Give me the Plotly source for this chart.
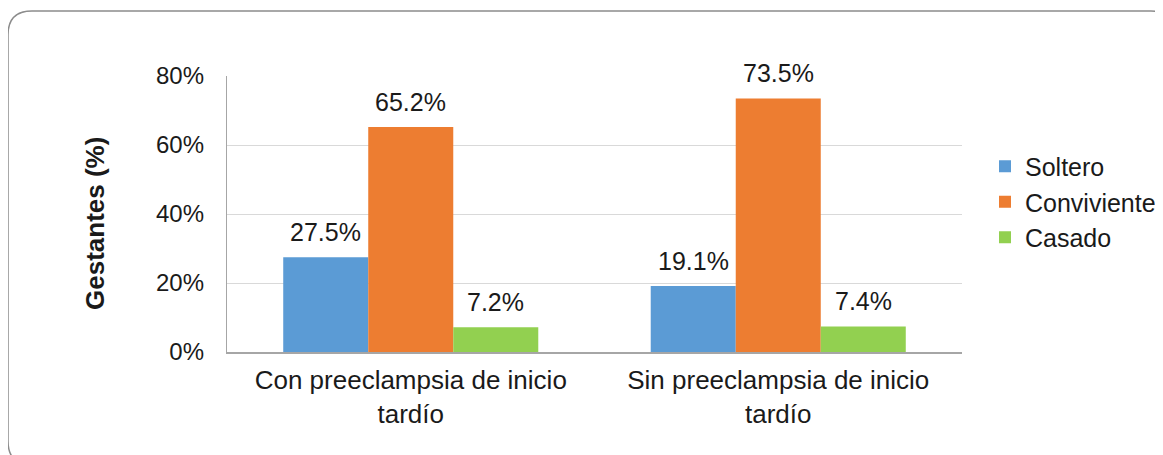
import plotly.graph_objects as go

categories = ["Con preeclampsia de inicio<br>tardío", "Sin preeclampsia de inicio<br>tardío"]
series_names = ["Soltero", "Conviviente", "Casado"]
soltero = [27.5, 19.1]
conviviente = [65.2, 73.5]
casado = [7.2, 7.4]
colors = ["#5b9bd5", "#ed7d31", "#92d050"]
y_ticks = [0, 20, 40, 60, 80]
y_tick_labels = ["0%", "20%", "40%", "60%", "80%"]

# page is rendered with an 8px body margin; work in page coordinates
OFF = 8
W, H = 1163 - OFF, 455 - OFF
PL, PR, PT, PB = 227, 962, 76, 352   # plot area in page pixels
pw, ph = PR - PL, PB - PT
L, T = PL - OFF, PT - OFF
R, B = W - (PR - OFF), H - (PB - OFF)
BARGAP = 0.306

def px(x):
    return (x - PL) / pw

def py(y):
    return (PB - y) / ph

FONT = "Arial, Liberation Sans, sans-serif"
TXT = "#1a1a1a"
fig = go.Figure()
all_vals = [soltero, conviviente, casado]
bar_w = pw / len(categories) * (1 - BARGAP) / len(series_names)
annotations = []
for i, (name, vals, c) in enumerate(zip(series_names, all_vals, colors)):
    fig.add_trace(go.Bar(
        x=categories, y=vals, name=name, marker=dict(color=c, line=dict(width=0)),
    ))
    for cat, v in zip(categories, vals):
        annotations.append(dict(
            x=cat, y=v, xref="x", yref="y", text=f"{v:.1f}%", showarrow=False,
            xshift=(i - 1) * bar_w, yshift=25, yanchor="middle",
            font=dict(size=25, family=FONT, color=TXT)))

# rounded border
x0, y0, x1, y1, r = 8, 11, 1175, 465, 24
path = (f"M {px(x0+r)},{py(y0)} L {px(x1-r)},{py(y0)} Q {px(x1)},{py(y0)} {px(x1)},{py(y0+r)} "
        f"L {px(x1)},{py(y1-r)} Q {px(x1)},{py(y1)} {px(x1-r)},{py(y1)} "
        f"L {px(x0+r)},{py(y1)} Q {px(x0)},{py(y1)} {px(x0)},{py(y1-r)} "
        f"L {px(x0)},{py(y0+r)} Q {px(x0)},{py(y0)} {px(x0+r)},{py(y0)} Z")

annotations.append(dict(text="<b>Gestantes (%)</b>", xref="paper", yref="paper",
                        x=px(95), y=py(224), xanchor="center", yanchor="middle",
                        textangle=-90, showarrow=False,
                        font=dict(size=26, family=FONT, color=TXT)))

fig.update_layout(
    width=W, height=H, margin=dict(l=L, r=R, t=T, b=B, autoexpand=False),
    paper_bgcolor="white", plot_bgcolor="white",
    barmode="group", bargap=BARGAP, bargroupgap=0,
    font=dict(family=FONT, color=TXT),
    showlegend=True,
    legend=dict(x=px(985), y=py(202), xanchor="left", yanchor="middle",
                font=dict(size=25, family=FONT, color=TXT),
                itemwidth=30, tracegroupgap=0, bgcolor="rgba(0,0,0,0)"),
    shapes=[dict(type="path", xref="paper", yref="paper", path=path,
                 line=dict(color="#8c8c8c", width=1.5), layer="above")],
    annotations=annotations,
)
fig.update_yaxes(range=[0, 80], tickvals=y_ticks, ticktext=y_tick_labels,
                 showgrid=True, gridcolor="#d9d9d9", gridwidth=1.3,
                 showline=True, linecolor="#a6a6a6", linewidth=1.3,
                 ticks="", ticklabelstandoff=17,
                 tickfont=dict(size=24, family=FONT, color=TXT), zeroline=False)
fig.update_xaxes(showline=True, linecolor="#a6a6a6", linewidth=1.5, ticks="",
                 ticklabelstandoff=4,
                 tickfont=dict(size=26, family=FONT, color=TXT))

fig.write_html("out.html")
